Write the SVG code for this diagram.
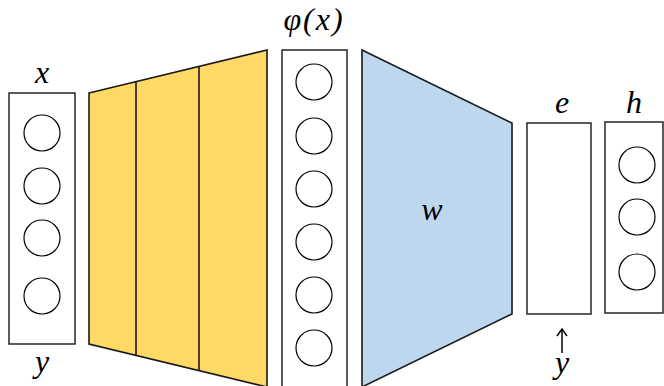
<svg xmlns="http://www.w3.org/2000/svg" width="664" height="386" viewBox="0 0 664 386">
  <style>
    .box { fill: #ffffff; stroke: #262626; stroke-width: 1.5; }
    .unit { fill: #ffffff; stroke: #000000; stroke-width: 1.2; }
    .yellow { fill: #FFD966; stroke: #1a1a1a; stroke-width: 1.6; stroke-linejoin: miter; }
    .blue { fill: #BDD7EE; stroke: #1a1a1a; stroke-width: 1.6; }
    .div { stroke: #1a1a1a; stroke-width: 1.6; fill: none; }
    .lbl { font-family: "Liberation Serif", "DejaVu Serif", serif; font-style: italic; font-size: 32px; fill: #000000; text-anchor: middle; }
    .conn { stroke: #000000; stroke-width: 1.5; fill: none; }
  </style>

  <g id="input-x">
    <rect class="box" x="9" y="93" width="66" height="251"/>
    <circle class="unit" cx="42" cy="133" r="18"/>
    <circle class="unit" cx="42" cy="186" r="18"/>
    <circle class="unit" cx="42" cy="238" r="18"/>
    <circle class="unit" cx="42" cy="296" r="18"/>
    <text class="lbl" x="42" y="83">x</text>
    <text class="lbl" x="42" y="372">y</text>
  </g>

  <g id="feature-extractor">
    <polygon class="yellow" points="89,93 267,50 267,387 89,344"/>
    <line class="div" x1="136" y1="81.6" x2="136" y2="355.1"/>
    <line class="div" x1="199" y1="66.4" x2="199" y2="370"/>
  </g>

  <g id="features-phi">
    <rect class="box" x="282" y="50" width="65" height="340"/>
    <circle class="unit" cx="314" cy="82" r="18"/>
    <circle class="unit" cx="314" cy="136" r="18"/>
    <circle class="unit" cx="314" cy="189" r="18"/>
    <circle class="unit" cx="314" cy="242" r="18"/>
    <circle class="unit" cx="314" cy="295" r="18"/>
    <circle class="unit" cx="314" cy="348" r="18"/>
    <text class="lbl" x="314" y="30" letter-spacing="2">φ(x)</text>
  </g>

  <g id="weights-w">
    <polygon class="blue" points="362,50 512,123 512,314 362,387"/>
    <text class="lbl" x="432" y="220">w</text>
  </g>

  <g id="error-e">
    <rect class="box" x="527" y="123" width="64" height="191"/>
    <text class="lbl" x="562" y="113">e</text>
    <text class="lbl" x="562" y="373">y</text>
  </g>

  <g id="hidden-h">
    <rect class="box" x="605" y="122" width="58" height="191"/>
    <circle class="unit" cx="637" cy="165" r="18"/>
    <circle class="unit" cx="637" cy="217" r="18"/>
    <circle class="unit" cx="637" cy="272" r="18"/>
    <text class="lbl" x="634" y="113">h</text>
  </g>

  <g id="connectors">
    <line class="conn" x1="562" y1="353" x2="562" y2="330"/>
    <polyline class="conn" points="557,336 562,329 567,336"/>
  </g>
</svg>
